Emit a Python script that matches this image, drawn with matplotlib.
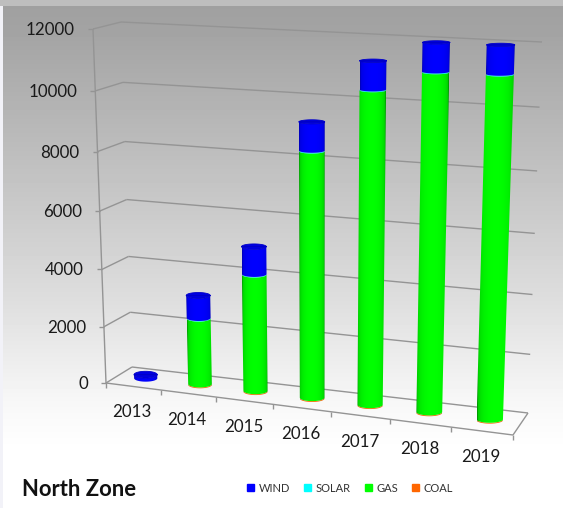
import numpy as np
import matplotlib
matplotlib.use('Agg')
import matplotlib.pyplot as plt
from matplotlib.patches import Patch, Polygon

plt.rcParams['font.family'] = ['Lato', 'DejaVu Sans']

years = ['2013', '2014', '2015', '2016', '2017', '2018', '2019']
coal = [0, 30, 30, 30, 30, 30, 30]
gas = [0, 2325, 4045, 8320, 10400, 11075, 11120]
solar = [0, 20, 20, 25, 25, 25, 25]
wind = [130, 785, 935, 925, 895, 895, 880]
value_ticks = [0, 2000, 4000, 6000, 8000, 10000, 12000]
zone = 'North Zone'

W, H = 563, 508
y_max = 12000


def homography(pts):
    # unit square -> picture corners (bl, br, tl, tr)
    src = [(0, 0), (1, 0), (0, 1), (1, 1)]
    a, b = [], []
    for (u, v), (x, y) in zip(src, pts):
        a.append([u, v, 1, 0, 0, 0, -u * x, -v * x])
        a.append([0, 0, 0, u, v, 1, -u * y, -v * y])
        b += [x, y]
    return np.append(np.linalg.solve(np.array(a, float), np.array(b, float)), 1).reshape(3, 3)


front = homography([(106, 383), (513, 435), (93, 29), (525, 55)])
back = homography([(132, 367), (528, 413), (121, 22), (542, 42)])


def proj(cat, val, depth=0.5):
    # cat in category units, val in chart units, depth 0 front .. 1 back
    p = np.array([cat / len(years), val / y_max, 1.0])
    f = front @ p
    b = back @ p
    return (1 - depth) * f[:2] / f[2] + depth * b[:2] / b[2]


def line(p, q, **kw):
    ax.plot([p[0], q[0]], [p[1], q[1]], solid_capstyle='butt', **kw)


def half_ellipse(c, rx, ry, lower=True):
    t = np.linspace(0, np.pi, 40)
    s = 1 if lower else -1
    return np.column_stack([c[0] + rx * np.cos(t), c[1] + s * ry * np.sin(t)])


def cylinder_part(i, v0, v1, color, edge):
    c = i + 0.5
    b = proj(c, v0)
    t = proj(c, v1)
    rx0 = (proj(c + 0.215, v0) - b)[0]
    rx1 = (proj(c + 0.215, v1) - t)[0]
    ry0 = 3.4 * (1 - 0.5 * v0 / y_max)
    ry1 = 3.4 * (1 - 0.5 * v1 / y_max)
    outline = np.vstack([half_ellipse(b, rx0, ry0)[::-1], half_ellipse(t, rx1, ry1)])
    poly = Polygon(outline, closed=True, facecolor='none', edgecolor='none')
    ax.add_patch(poly)
    # round shading, dark at the rim
    x = np.linspace(-1, 1, 60)
    k = np.sqrt(1 - np.minimum(x ** 2, 1)) ** 0.45
    shade = np.outer(1 - k, np.array(edge) - np.array(color)) + np.array(color)
    left = min(b[0] - rx0, t[0] - rx1)
    right = max(b[0] + rx0, t[0] + rx1)
    top = min(outline[:, 1]) - 1
    bottom = max(outline[:, 1]) + 1
    img = ax.imshow(shade[np.newaxis, :, :] / 255, extent=(left, right, bottom, top),
                    aspect='auto', interpolation='bilinear', zorder=3)
    img.set_clip_path(poly)
    return t, rx1, ry1


fig = plt.figure(figsize=(W / 100, H / 100), dpi=100)
ax = fig.add_axes([0, 0, 1, 1])
ax.set_axis_off()

# page background
rows = np.arange(H)
grey = np.interp(rows, [0, 5, 6, 30, 200, 300, 400, 450, 508],
                 [190, 190, 160, 163, 200, 222, 247, 255, 255])
bg = np.repeat((grey / 255)[:, np.newaxis], W, axis=1)
ax.imshow(bg, cmap='gray', vmin=0, vmax=1, extent=(0, W, H, 0), aspect='auto', zorder=0)
ax.fill([0, 3, 3, 0], [6, 6, H, H], color='#f2f2f8', lw=0, zorder=1)

n = len(years)
grid = dict(color='#949494', lw=1, zorder=1)
for v in value_ticks:
    line(proj(0, v, 0), proj(0, v, 1), **grid)
    line(proj(0, v, 1), proj(n, v, 1), **grid)
    p = proj(0, v, 0)
    line(p, p + [-5, 0], **grid)
    ax.text(p[0] - 18, p[1] + 1, str(v), ha='right', va='center', fontsize=12.2, color='#1a1a1a', zorder=5)

line(proj(0, 0, 0), proj(0, y_max, 0), **grid)
line(proj(0, 0, 0), proj(n, 0, 0), **grid)
line(proj(n, 0, 0), proj(n, 0, 1), **grid)

for i in range(n + 1):
    p = proj(i, 0, 0)
    line(p, p + [0, 5], **grid)

for i, y in enumerate(years):
    p = proj(i + 0.5, 0, 0)
    ax.text(p[0] - 1, p[1] + 26, y, ha='center', va='center', fontsize=12.2, color='#1a1a1a', zorder=5)

for i in range(n):
    base = 0
    last = None
    for vals, col, edge in [(coal, (255, 102, 0), (190, 80, 0)),
                            (gas, (0, 255, 0), (0, 130, 0)),
                            (solar, (0, 255, 255), (0, 170, 170)),
                            (wind, (0, 0, 255), (0, 0, 165))]:
        if vals[i] > 0:
            last = cylinder_part(i, base, base + vals[i], col, edge)
            base += vals[i]
    t, rx, ry = last
    cap = half_ellipse(t, rx, ry), half_ellipse(t, rx, ry, lower=False)
    ax.add_patch(Polygon(np.vstack(cap), closed=True, facecolor='#0000e0', edgecolor='#0000c8', lw=0.6, zorder=4))

ax.text(22, 489, zone, fontsize=15.8, fontweight='bold', color='#111111', ha='left', va='center', zorder=5)

handles = [Patch(color='#0000ff', label='WIND'), Patch(color='#00ffff', label='SOLAR'),
           Patch(color='#00ff00', label='GAS'), Patch(color='#ff6600', label='COAL')]
ax.legend(handles=handles, ncol=4, frameon=False, fontsize=8, labelcolor='#333333',
          loc='center', bbox_to_anchor=(350, 488), bbox_transform=ax.transData,
          handlelength=0.65, handleheight=0.65, handletextpad=0.4, columnspacing=1.25, borderpad=0)

ax.set_xlim(0, W)
ax.set_ylim(H, 0)
fig.savefig('out.png', dpi=100)
